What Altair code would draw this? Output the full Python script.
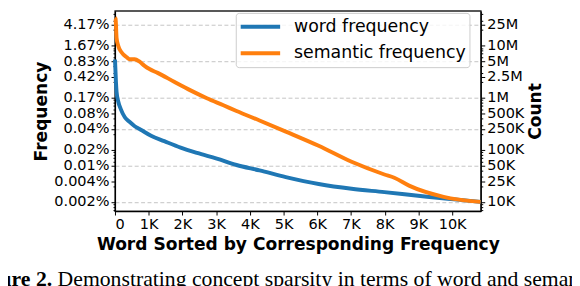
import json
import altair as alt
import pandas as pd

# ---- data ----
word_rank = [0, 29, 47, 96, 175, 292, 439, 585, 778, 1070, 1462, 1947, 2436, 3020,
             3605, 4287, 5067, 6041, 7018, 7991, 9257, 10234, 10842]
word_count = [5400000, 1960000, 1290000, 845000, 596000, 420000, 340000, 283000, 239000,
              185000, 146000, 110000, 86900, 67500, 51000, 40200, 29900, 22000, 17800,
              15400, 12500, 10900, 10000]

sem_rank = [0, 18, 47, 96, 193, 339, 439, 585, 731, 877, 1023, 1266, 1754, 2240, 2725,
            3216, 3605, 4287, 5067, 6041, 7018, 7991, 8284, 8722, 9746, 10842]
sem_count = [34000000, 32600000, 14000000, 9900000, 7460000, 6040000, 5480000, 5480000,
             4900000, 4080000, 3540000, 2990000, 2020000, 1380000, 975000, 714000, 555000,
             364000, 223000, 119000, 58700, 33500, 29000, 20500, 12500, 10000]

series_names = ["word frequency", "semantic frequency"]
series_colors = ["#1f77b4", "#ff7f0e"]

x_ticks = [0, 1000, 2000, 3000, 4000, 5000, 6000, 7000, 8000, 9000, 10000]
x_labels = ["0", "1K", "2K", "3K", "4K", "5K", "6K", "7K", "8K", "9K", "10K"]

y_major = [10000, 25000, 50000, 100000, 250000, 500000, 1000000, 2500000, 5000000,
           10000000, 25000000]
y_pct_labels = ["0.002%", "0.004%", "0.01%", "0.02%", "0.04%", "0.08%", "0.17%",
                "0.42%", "0.83%", "1.67%", "4.17%"]
y_count_labels = ["10K", "25K", "50K", "100K", "250K", "500K", "1M", "2.5M", "5M",
                  "10M", "25M"]
y_grid = [10000, 50000, 250000, 1000000, 5000000, 25000000]
y_minor = [7000, 8000, 9000, 20000, 30000, 40000, 60000, 70000, 80000, 90000,
           200000, 300000, 400000, 600000, 700000, 800000, 900000,
           2000000, 3000000, 4000000, 6000000, 7000000, 8000000, 9000000,
           20000000, 30000000, 40000000]

caption_bold = "Figure 2."
caption_text = "Demonstrating concept sparsity in terms of word and semantic frequency."

# ---- build table ----
df = pd.DataFrame({
    "rank": word_rank + sem_rank,
    "count": word_count + sem_count,
    "series": [series_names[0]] * len(word_rank) + [series_names[1]] * len(sem_rank),
})

FONT = "DejaVu Sans"
y_domain = [6650, 46200000]
x_domain = [0, 10850]


def label_expr(vals, labels):
    v = json.dumps(vals)
    l = json.dumps(labels).replace('"', "'")
    return f"indexof({v}, datum.value) >= 0 ? {l}[indexof({v}, datum.value)] : ''"


major_test = f"indexof({json.dumps(y_major)}, datum.value) >= 0"
grid_test = f"indexof({json.dumps(y_grid)}, datum.value) >= 0"
all_y_ticks = sorted(y_major + y_minor)

legend = alt.Legend(
    title=None, orient="none", legendX=122.5, legendY=2,
    symbolType="stroke", symbolSize=1600, symbolStrokeWidth=4,
    labelFont=FONT, labelFontSize=17.6, labelColor="black", labelOffset=12,
    labelLimit=0, clipHeight=22,
    fillColor="rgba(255,255,255,0.8)", strokeColor="#cccccc", cornerRadius=3,
    padding=3, rowPadding=5,
)
color = alt.Color("series:N", scale=alt.Scale(domain=series_names, range=series_colors),
                  legend=legend)

x_enc = alt.X("rank:Q", scale=alt.Scale(domain=x_domain, nice=False, zero=False),
              axis=alt.Axis(values=x_ticks, labelExpr=label_expr(x_ticks, x_labels),
                            title="Word Sorted by Corresponding Frequency", grid=False,
                            tickSize=4, labelPadding=2, titlePadding=4,
                            labelFontSize=14.7, titleFontSize=17.3))

base = alt.Chart(df)

left_axis = alt.Axis(
    orient="left", values=all_y_ticks, labelExpr=label_expr(y_major, y_pct_labels),
    title="Frequency", titlePadding=3, labelPadding=2, labelOverlap=False,
    tickSize={"condition": {"test": major_test, "value": 4}, "value": 2},
    grid=True, gridDash=[4, 2.5], gridColor="#c4c4c4", gridWidth=1,
    gridOpacity={"condition": {"test": grid_test, "value": 1}, "value": 0},
    labelFontSize=14.7, titleFontSize=17.3,
)
right_axis = alt.Axis(
    orient="right", values=all_y_ticks, labelExpr=label_expr(y_major, y_count_labels),
    title="Count", titleAngle=270, titleBaseline="top", titlePadding=3, labelPadding=2,
    labelOverlap=False,
    tickSize={"condition": {"test": major_test, "value": 4}, "value": 2},
    grid=False, labelFontSize=14.7, titleFontSize=17.3,
)

word_line = base.transform_filter(alt.datum.series == series_names[0]).mark_line(
    strokeWidth=4, interpolate="monotone", strokeCap="butt"
).encode(
    x=x_enc,
    y=alt.Y("count:Q", scale=alt.Scale(type="log", domain=y_domain, nice=False), axis=left_axis),
    color=color,
)
sem_line = base.transform_filter(alt.datum.series == series_names[1]).mark_line(
    strokeWidth=4, interpolate="monotone", strokeCap="butt"
).encode(
    x=x_enc,
    y=alt.Y("count:Q", scale=alt.Scale(type="log", domain=y_domain, nice=False), axis=right_axis),
    color=color,
)

cap_df = pd.DataFrame({"bold": [caption_bold], "text": [caption_text]})
cap_bold = alt.Chart(cap_df).mark_text(
    font="Liberation Serif", fontSize=22, fontWeight="bold", align="right",
    baseline="alphabetic", color="black"
).encode(text="bold:N", x=alt.value(-63.7), y=alt.value(278.5))
cap_main = alt.Chart(cap_df).mark_text(
    font="Liberation Serif", fontSize=22, align="left",
    baseline="alphabetic", color="black"
).encode(text="text:N", x=alt.value(-58.2), y=alt.value(278.5))

chart = alt.layer(word_line, sem_line, cap_bold, cap_main).resolve_scale(
    y="independent"
).properties(
    width=371, height=203,
    autosize=alt.AutoSizeParams(type="none"),
    padding={"left": 108.5, "top": 1, "right": 92.5, "bottom": 74},
).configure_axis(
    labelFont=FONT, titleFont=FONT, labelColor="black", titleColor="black",
    titleFontWeight="bold", domainColor="black", tickColor="black",
    domainWidth=1.2, tickWidth=1,
).configure_view(stroke="#222222", strokeWidth=1.4)

chart.save("out.html", embed_options={"renderer": "svg", "actions": False})
